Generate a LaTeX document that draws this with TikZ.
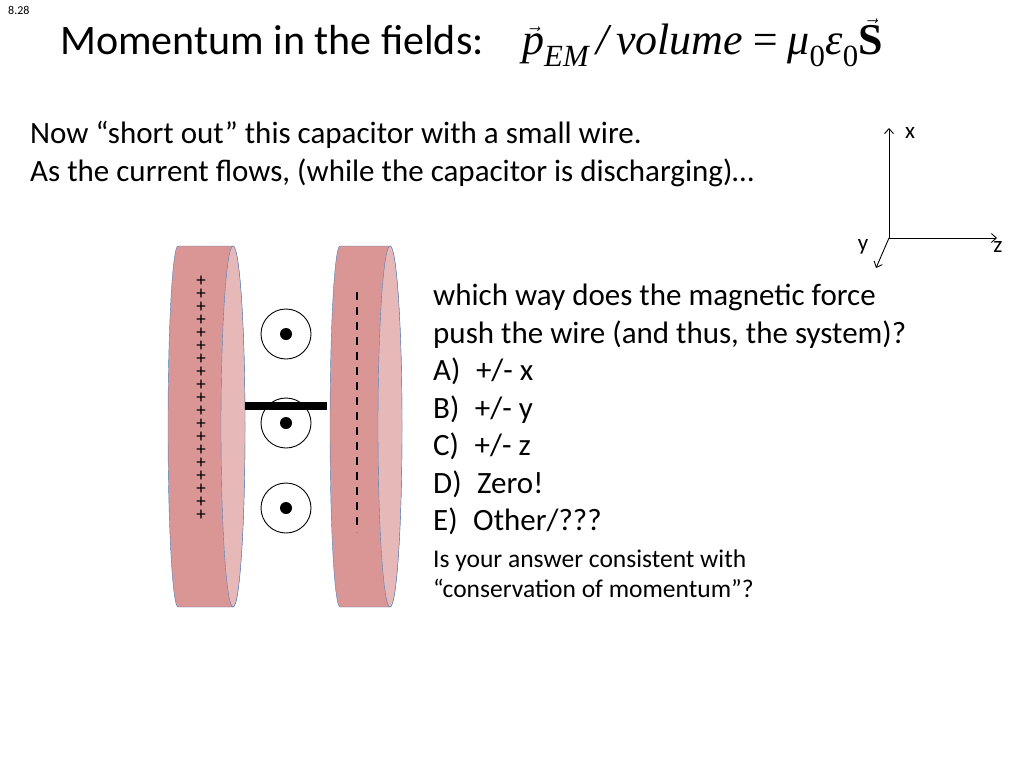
\documentclass[tikz,border=0pt]{standalone}
\usepackage{fontspec}
\setmainfont{Carlito}
\newfontfamily\timesfont{Liberation Serif}
\usetikzlibrary{arrows.meta}
\definecolor{platebody}{HTML}{D99694}
\definecolor{plateside}{HTML}{E6B9B8}
\definecolor{plateline}{HTML}{4F81BD}
\begin{document}
\begin{tikzpicture}[x=1pt,y=-1pt]

        \tikzset{
            plate/.style={draw=plateline, fill=platebody},
            plateface/.style={draw=plateline, fill=plateside},
            fieldring/.style={draw, circle, minimum size=50pt, inner sep=0pt, line width=0.9pt},
            fielddot/.style={fill, circle, minimum size=12pt, inner sep=0pt},
            axis/.style={-{Straight Barb[length=5pt,width=9pt]}, line width=0.9pt},
            txt/.style={anchor=base west, inner sep=0pt, font=\fontsize{31}{34}\selectfont},
            smalltxt/.style={anchor=base west, inner sep=0pt, font=\fontsize{25.5}{28}\selectfont}
        }

        \useasboundingbox[fill=white] (0,0) rectangle (1024,768);

        % title
        \node[anchor=base west, inner sep=0pt, font=\fontsize{12}{14}\selectfont] (slide) at (8,15) {8.28};
        \node[anchor=base west, inner sep=0pt, font=\fontsize{42}{46}\selectfont] (title) at (60,55) {Momentum in the fields:};
        \node[anchor=base west, inner sep=0pt, font=\fontsize{44}{48}\selectfont\timesfont\itshape] (formula) at (522,55)
            {$\vec{\hbox{p}}$\textsubscript{EM}\,/\,volume\,=\,μ\textsubscript{\upshape 0}ε\textsubscript{\upshape 0}$\vec{\hbox{\upshape\bfseries S}}$};

        \node[txt] (line1) at (30,143) {Now “short out” this capacitor with a small wire.};
        \node[txt] (line2) at (30,181) {As the current flows, (while the capacitor is discharging)…};

        % capacitor plates
        \draw[plate] (178,246) -- (233,246) arc[start angle=-90,end angle=90,x radius=12,y radius=180.5]
            -- (178,607) arc[start angle=90,end angle=270,x radius=10,y radius=180.5] -- cycle;
        \draw[plateface] (233,426.5) ellipse[x radius=12,y radius=180.5];
        \draw[plate] (340,246) -- (390,246) arc[start angle=-90,end angle=90,x radius=12,y radius=180.5]
            -- (340,607) arc[start angle=90,end angle=270,x radius=10,y radius=180.5] -- cycle;
        \draw[plateface] (390,426.5) ellipse[x radius=12,y radius=180.5];

        \foreach \k in {0,...,18} {
            \node[font=\fontsize{19}{19}\selectfont, inner sep=0pt] at (201,281+13*\k) {+};
        }
        \draw[dash pattern=on 8pt off 7pt, line width=1.2pt] (357,292) -- (357,532);

        % wire
        \coordinate (wireL) at (245,406);
        \coordinate (wireR) at (327,406);
        \draw[line width=8pt] (wireL) -- (wireR);

        % field out of page
        \foreach \n/\yy in {1/334,2/423,3/508} {
            \node[fieldring] (ring\n) at (286,\yy) {};
            \node[fielddot] (dot\n) at (ring\n) {};
        }

        % axes
        \coordinate (origin) at (889,238);
        \coordinate (xend) at (889,128);
        \coordinate (zend) at (997,238);
        \coordinate (yend) at (876,268);
        \draw[axis] (origin) -- (xend);
        \draw[axis] (origin) -- (zend);
        \draw[axis] (origin) -- (yend);
        \node[font=\fontsize{23}{25}\selectfont] (xlab) at (910,133) {x};
        \node[font=\fontsize{23}{25}\selectfont] (zlab) at (998,247) {z};
        \node[font=\fontsize{23}{25}\selectfont] (ylab) at (863,247) {y};

        % question
        \node[txt] (q1) at (433,305) {which way does the magnetic force};
        \node[txt] (q2) at (433,343) {push the wire (and thus, the system)?};
        \node[txt] (qa) at (433,380) {A)\enspace+/- x};
        \node[txt] (qb) at (433,418) {B)\enspace+/- y};
        \node[txt] (qc) at (433,455) {C)\enspace+/- z};
        \node[txt] (qd) at (433,493) {D)\enspace Zero!};
        \node[txt] (qe) at (433,530) {E)\enspace Other/???};
        \node[smalltxt] (n1) at (433,567) {Is your answer consistent with};
        \node[smalltxt] (n2) at (433,597) {“conservation of momentum”?};

    \end{tikzpicture}
\end{document}
